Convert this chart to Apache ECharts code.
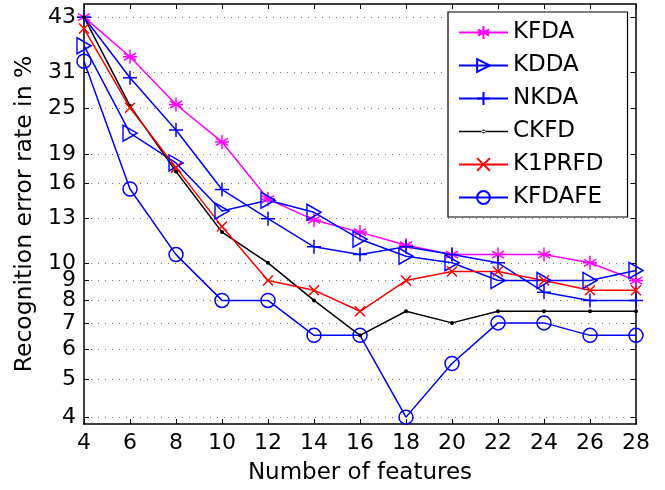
<!DOCTYPE html>
<html>
<head>
<meta charset="utf-8">
<script src="https://cdn.jsdelivr.net/npm/echarts@6/dist/echarts.min.js"></script>
<style>html,body{margin:0;padding:0;background:#fff}#c{width:665px;height:490px}</style>
</head>
<body>
<div id="c"></div>
<script>
const features = [4, 6, 8, 10, 12, 14, 16, 18, 20, 22, 24, 26, 28];
const yTicks = [4, 5, 6, 7, 8, 9, 10, 13, 16, 19, 25, 31, 43];
const kfda   = [43, 34.0, 25.6, 20.5, 14.6, 12.9, 12.0, 11.1, 10.5, 10.5, 10.5, 10.0, 9.0];
const kdda   = [36.3, 21.6, 18.1, 13.6, 14.5, 13.5, 11.5, 10.4, 10.0, 9.0, 9.0, 9.0, 9.55];
const nkda   = [43, 30.0, 22.0, 15.45, 13.0, 11.0, 10.5, 11.0, 10.5, 10.0, 8.4, 8.0, 8.0];
const ckfd   = [43, 25.4, 17.2, 12.0, 10.0, 8.0, 6.5, 7.5, 7.0, 7.5, 7.5, 7.5, 7.5];
const k1prfd = [40.2, 25.1, 17.6, 12.4, 9.0, 8.5, 7.5, 9.0, 9.5, 9.5, 9.0, 8.5, 8.5];
const kfdafe = [33.1, 15.5, 10.5, 8.0, 8.0, 6.5, 6.5, 4.0, 5.5, 7.0, 7.0, 6.5, 6.5];

const FONT = 'DejaVu Sans';
const pair = arr => features.map((x, i) => [x, arr[i]]);

const STAR = 'path://M0,-1L0,1M-0.866,-0.5L0.866,0.5M-0.866,0.5L0.866,-0.5M-1,0L1,0';
const PLUS = 'path://M0,-1L0,1M-1,0L1,0';
const CROSS = 'path://M-1,-1L1,1M-1,1L1,-1';
const TRI = 'path://M0,0L1,0.5L0,1Z';
// legend icon for the dot series: thin line with a small dot, in a 49x16 box
const DOT_ICON = 'path://M0,0L0,0M49,16L49,16M0,7.3L49,7.3L49,8.7L0,8.7ZM22.5,8A2,2 0 1,0 26.5,8A2,2 0 1,0 22.5,8Z';

function mk(name, data, color, symbol, size, hollowFill) {
  return {
    name, type: 'line', data: pair(data), symbol, symbolSize: size,
    xAxisIndex: 0, yAxisIndex: 0,
    lineStyle: { color, width: 1.5 },
    itemStyle: { color: hollowFill ? 'rgba(0,0,0,0)' : color, borderColor: color, borderWidth: 1.5 },
    emphasis: { disabled: true },
    animation: false
  };
}

const series = [
  mk('KFDA', kfda, '#ff00ff', STAR, 14, true),
  mk('KDDA', kdda, '#0000ff', TRI, [14, 16], true),
  mk('NKDA', nkda, '#0000ff', PLUS, 14, true),
  mk('CKFD', ckfd, '#000000', 'circle', 4, false),
  mk('K1PRFD', k1prfd, '#ff0000', CROSS, 10, true),
  mk('KFDAFE', kfdafe, '#0000ff', 'circle', 14, true)
];
series[3].itemStyle.borderWidth = 0;

const chart = echarts.init(document.getElementById('c'), null, { renderer: 'canvas' });
const tickCommon = { inside: true, length: 5, lineStyle: { color: '#000', width: 1 } };
chart.setOption({
  animation: false,
  backgroundColor: '#fff',
  grid: { left: 84, right: 29, top: 4, bottom: 62 },
  legend: {
    orient: 'vertical', left: 448, top: 12,
    backgroundColor: '#fff', borderColor: '#000', borderWidth: 1.2,
    padding: [9, 24, 8, 10], itemGap: 10, itemWidth: 49, itemHeight: 16,
    textStyle: { fontFamily: FONT, fontSize: 23, color: '#000', lineHeight: 22 },
    data: ['KFDA', 'KDDA', 'NKDA', { name: 'CKFD', icon: DOT_ICON }, 'K1PRFD', 'KFDAFE']
  },
  xAxis: [{
    type: 'value', min: 4, max: 28, interval: 2, position: 'bottom',
    axisLine: { lineStyle: { color: '#000', width: 1.5 } },
    axisTick: tickCommon,
    axisLabel: { fontFamily: FONT, fontSize: 22, color: '#000', margin: 8 },
    splitLine: { show: false },
    name: 'Number of features', nameLocation: 'middle', nameGap: 38,
    nameTextStyle: { fontFamily: FONT, fontSize: 23, color: '#000' }
  }, {
    type: 'value', min: 4, max: 28, interval: 2, position: 'top',
    axisLine: { lineStyle: { color: '#000', width: 1.5 } },
    axisTick: tickCommon, axisLabel: { show: false }, splitLine: { show: false }
  }],
  yAxis: [{
    type: 'log', logBase: 10, min: 3.84, max: 46.5, position: 'left',
    axisLine: { show: true, lineStyle: { color: '#000', width: 1.5 } },
    axisTick: Object.assign({ customValues: yTicks }, tickCommon),
    axisLabel: { customValues: yTicks, fontFamily: FONT, fontSize: 22, color: '#000', margin: 8 },
    splitLine: { show: true, lineStyle: { color: '#777', width: 1, type: [1, 6] } },
    minorTick: { show: false },
    name: 'Recognition error rate in %', nameLocation: 'middle', nameGap: 46,
    nameTextStyle: { fontFamily: FONT, fontSize: 23.5, color: '#000' }
  }, {
    type: 'log', logBase: 10, min: 3.84, max: 46.5, position: 'right',
    axisLine: { show: true, lineStyle: { color: '#000', width: 1.5 } },
    axisTick: Object.assign({ customValues: yTicks }, tickCommon),
    axisLabel: { show: false }, splitLine: { show: false }
  }],
  series
});
</script>
</body>
</html>
